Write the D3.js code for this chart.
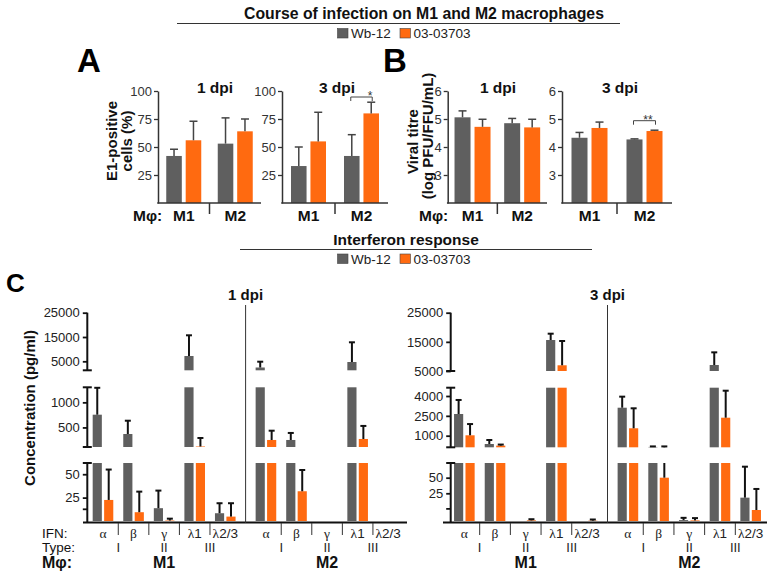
<!DOCTYPE html>
<html><head><meta charset="utf-8">
<script src="https://cdn.jsdelivr.net/npm/d3@7"></script>
<style>body{margin:0;background:#fff}svg{display:block}text{font-family:"Liberation Sans",Arial,sans-serif}</style>
</head><body><svg id="chart" width="776" height="578"></svg>
<script>
// ---------------- DATA ----------------
const macrophages = ["M1", "M2"];
const strains = ["Wb-12", "03-03703"];
const strainColors = ["#5f5f5f", "#ff6a10"];

// Panel A: E1-positive cells (%), [M1, M2]
const aTicks = [25, 50, 75, 100];
const a1dpiWb = [42, 53],  a1dpiWbErr = [6, 23];
const a1dpi03 = [56, 64],  a1dpi03Err = [17, 11];
const a3dpiWb = [33, 42],  a3dpiWbErr = [17, 19];
const a3dpi03 = [55, 80],  a3dpi03Err = [26, 10];

// Panel B: Viral titre (log PFU/FFU/mL), [M1, M2]
const bTicks = [3, 4, 5, 6];
const b1dpiWb = [5.06, 4.85], b1dpiWbErr = [0.23, 0.17];
const b1dpi03 = [4.72, 4.70], b1dpi03Err = [0.27, 0.29];
const b3dpiWb = [4.33, 4.27], b3dpiWbErr = [0.19, 0.02];
const b3dpi03 = [4.68, 4.57], b3dpi03Err = [0.21, 0.03];

// Panel C: IFN concentration (pg/ml); order M1: α β γ λ1 λ2/3, then M2: α β γ λ1 λ2/3
const ifnTypes = ["α", "β", "γ", "λ1", "λ2/3"];
const ifnClass = ["I", "II", "III"];
const c1dpiWb    = [754, 369, 13.7, 7180, 8.3,   2450, 250, null, 4715, null];
const c1dpiWbErr = [536, 265, 18.8, 8520, 10.7,  2390, 140, null, 8105, null];
const c1dpi03    = [22.5, 9.4, 0.5, 120, 4.7,    250, 31.8, null, 270, null];
const c1dpi03Err = [32.5, 22, 2, 170, 14.3,      185, 22.7, null, 260, null];
const c3dpiWb    = [2640, 373, null, 15630, null,  3115, 150, 7.6, 7060, 20.6];
const c3dpiWbErr = [1060, 302, null, 2170, null,   835, 40, 0.8, 4340, 60.9];
const c3dpi03    = [1030, 250, 7.5, 6960, 7.4,     1560, 50, 7.5, 2360, 11.9];
const c3dpi03Err = [850, 80, 0.4, 8330, 0.4,       1510, 140, 0.8, 2040, 18.4];

// Broken-axis tick labels for panel C
const c1TopTicks = [5000, 15000, 25000], c1MidTicks = [500, 1000], c1BotTicks = [25, 50];
const c3TopTicks = [5000, 15000, 25000], c3MidTicks = [1000, 2500, 4000], c3BotTicks = [25, 50];

// ---------------- DRAW ----------------
const svg = d3.select("#chart");
const AX = "#333";

function header(title, tx, ty, lx1, lx2, ly, legY, fs) {
  svg.append("text").attr("x", tx).attr("y", ty).attr("text-anchor", "middle")
    .attr("font-size", fs).attr("font-weight", "bold").attr("fill", "#111").text(title);
  svg.append("line").attr("x1", lx1).attr("x2", lx2).attr("y1", ly).attr("y2", ly)
    .attr("stroke", "#333").attr("stroke-width", 1.2);
  const lx = [337.5, 400];
  strains.forEach((s, i) => {
    svg.append("rect").attr("x", lx[i]).attr("y", legY).attr("width", 10.5).attr("height", 9.5)
      .attr("fill", strainColors[i]).attr("stroke", "#444").attr("stroke-width", 0.6);
    svg.append("text").attr("x", lx[i] + 13.5).attr("y", legY + 9.5).attr("font-size", 13.5)
      .attr("fill", "#222").text(s);
  });
}
header("Course of infection on M1 and M2 macrophages", 424, 19, 177, 620, 23.5, 28.5, 15.8);
header("Interferon response", 406, 245, 240, 592, 249.5, 254, 15.5);

function letter(t, x, y, size) {
  svg.append("text").attr("x", x).attr("y", y).attr("font-size", size).attr("font-weight", "bold")
    .attr("fill", "#000").text(t);
}
letter("A", 77, 72, 33);
letter("B", 383, 72, 33);
letter("C", 6, 292, 26);

function rotLabel(lines, cy) {
  lines.forEach(([t, x]) => {
    svg.append("text").attr("transform", `translate(${x},${cy}) rotate(-90)`)
      .attr("text-anchor", "middle").attr("dy", "0.36em").attr("font-size", 15)
      .attr("font-weight", "bold").attr("fill", "#111").text(t);
  });
}
rotLabel([["E1-positive", 112], ["cells (%)", 127]], 141);
svg.append("text").attr("transform", "translate(413,141.5) rotate(-90)").attr("text-anchor", "middle")
  .attr("dy", "0.36em").attr("font-size", 15).attr("font-weight", "bold").attr("fill", "#111").text("Viral titre");
svg.append("text").attr("transform", "translate(428,136) rotate(-90)").attr("text-anchor", "middle")
  .attr("dy", "0.36em").attr("font-size", 15).attr("font-weight", "bold").attr("fill", "#111").text("(log PFU/FFU/mL)");
svg.append("text").attr("transform", "translate(30,408) rotate(-90)").attr("text-anchor", "middle")
  .attr("dy", "0.36em").attr("font-size", 15).attr("font-weight", "bold").attr("fill", "#111").text("Concentration (pg/ml)");

function smallPanel(o) {
  const g = svg.append("g");
  const y = d3.scaleLinear().domain(o.yDomain).range([203, 91]);
  const x = d3.scaleBand().domain(macrophages).range([o.ax, o.xEnd]);
  const half = o.pair / 2, bw = x.bandwidth();
  const xs = d3.scaleBand().domain(strains).range([bw / 2 - half, bw / 2 + half]).paddingInner(0.2);
  const series = [[o.wb, o.wbErr], [o.st, o.stErr]];
  macrophages.forEach((m, i) => {
    series.forEach(([vals, errs], j) => {
      const bx = x(m) + xs(strains[j]), v = vals[i], e = errs[i], cx = bx + xs.bandwidth() / 2;
      g.append("rect").attr("x", bx).attr("y", y(v)).attr("width", xs.bandwidth())
        .attr("height", y(o.yDomain[0]) - y(v)).attr("fill", strainColors[j]);
      g.append("line").attr("x1", cx).attr("x2", cx).attr("y1", y(v)).attr("y2", y(v + e))
        .attr("stroke", "#444").attr("stroke-width", 1.5);
      g.append("line").attr("x1", cx - 4).attr("x2", cx + 4).attr("y1", y(v + e)).attr("y2", y(v + e))
        .attr("stroke", "#444").attr("stroke-width", 1.5);
    });
    g.append("text").attr("x", x(m) + bw / 2).attr("y", 221).attr("text-anchor", "middle")
      .attr("font-size", 15.5).attr("font-weight", "bold").attr("fill", "#111").text(m);
  });
  const axis = g.append("g").attr("transform", `translate(${o.ax},0)`)
    .call(d3.axisLeft(y).tickValues(o.ticks).tickSize(4).tickSizeOuter(0).tickPadding(2).tickFormat(d3.format("d")));
  axis.select(".domain").attr("stroke", AX).attr("stroke-width", 1.5);
  axis.selectAll(".tick line").attr("stroke", AX).attr("stroke-width", 1.3);
  axis.selectAll(".tick text").attr("font-size", 13).attr("fill", "#333")
    .attr("font-family", '"Liberation Sans", Arial, sans-serif');
  g.append("line").attr("x1", o.ax - 0.75).attr("x2", o.xEnd).attr("y1", 203).attr("y2", 203)
    .attr("stroke", AX).attr("stroke-width", 1.5);
  g.append("line").attr("x1", x("M2")).attr("x2", x("M2")).attr("y1", 203).attr("y2", 214)
    .attr("stroke", AX).attr("stroke-width", 1.5);
  g.append("text").attr("x", o.titleX).attr("y", 93).attr("text-anchor", "middle")
    .attr("font-size", 15.5).attr("font-weight", "bold").attr("fill", "#111").text(o.title);
  if (o.mphiX) g.append("text").attr("x", o.mphiX).attr("y", 221).attr("font-size", 15.5)
    .attr("font-weight", "bold").attr("fill", "#111").text("Mφ:");
  if (o.sig) {
    const x1 = x("M2") + xs("Wb-12") + xs.bandwidth() / 2, x2 = x("M2") + xs("03-03703") + xs.bandwidth() / 2;
    g.append("path").attr("d", `M${x1 - 1},${o.sig.y + 4}V${o.sig.y}H${x2 + 1}V${o.sig.y + 4}`)
      .attr("fill", "none").attr("stroke", "#444").attr("stroke-width", 1);
    g.append("text").attr("x", o.sig.tx).attr("y", o.sig.y + 3).attr("text-anchor", "middle")
      .attr("font-size", 12).attr("fill", "#333").text(o.sig.text);
  }
}
smallPanel({ax: 158, xEnd: 261, pair: 35, yDomain: [0, 100], ticks: aTicks, wb: a1dpiWb, wbErr: a1dpiWbErr,
  st: a1dpi03, stErr: a1dpi03Err, title: "1 dpi", titleX: 215, mphiX: 133});
smallPanel({ax: 282, xEnd: 388, pair: 35, yDomain: [0, 100], ticks: aTicks, wb: a3dpiWb, wbErr: a3dpiWbErr,
  st: a3dpi03, stErr: a3dpi03Err, title: "3 dpi", titleX: 337, sig: {y: 97, text: "*", tx: 370}});
smallPanel({ax: 447.7, xEnd: 547, pair: 36, yDomain: [2, 6], ticks: bTicks, wb: b1dpiWb, wbErr: b1dpiWbErr,
  st: b1dpi03, stErr: b1dpi03Err, title: "1 dpi", titleX: 498, mphiX: 419});
smallPanel({ax: 562, xEnd: 672, pair: 36, yDomain: [2, 6], ticks: bTicks, wb: b3dpiWb, wbErr: b3dpiWbErr,
  st: b3dpi03, stErr: b3dpi03Err, title: "3 dpi", titleX: 620, sig: {y: 120.7, text: "**", tx: 648}});

function panelC(o) {
  const g = svg.append("g");
  const outer = d3.scaleBand().domain(macrophages).range(o.range).paddingInner(0.062);
  const inner = d3.scaleBand().domain(ifnTypes).range([0, outer.bandwidth()]);
  const ib = inner.bandwidth();
  const sub = d3.scaleBand().domain(strains).range([ib / 2 - 10.3, ib / 2 + 10.3]).paddingInner(0.2);
  const series = [[o.wb, o.wbErr], [o.st, o.stErr]];
  macrophages.forEach((m, mi) => {
    ifnTypes.forEach((t, ti) => {
      const idx = mi * 5 + ti;
      series.forEach(([vals, errs], j) => {
        const v = vals[idx], e = errs[idx];
        if (v == null) return;
        const bx = outer(m) + inner(t) + sub(strains[j]), cx = bx + sub.bandwidth() / 2;
        const top = v + e;
        o.segs.forEach(seg => {
          const [lo, hi] = seg.scale.domain();
          if (v > lo) {
            const yv = seg.scale(Math.min(v, hi));
            g.append("rect").attr("x", bx).attr("width", sub.bandwidth()).attr("y", yv)
              .attr("height", seg.scale(lo) - yv).attr("fill", strainColors[j]);
          }
          const a = Math.max(v, lo), b = Math.min(top, hi);
          if (b > a) g.append("line").attr("x1", cx).attr("x2", cx).attr("y1", seg.scale(a)).attr("y2", seg.scale(b))
            .attr("stroke", "#111").attr("stroke-width", 2);
          if (top >= lo && top <= hi) g.append("line").attr("x1", cx - 3).attr("x2", cx + 3)
            .attr("y1", seg.scale(top)).attr("y2", seg.scale(top)).attr("stroke", "#111").attr("stroke-width", 2);
        });
      });
    });
  });
  o.segs.forEach(seg => {
    const ax = g.append("g").attr("transform", `translate(${o.ax},0)`)
      .call(d3.axisLeft(seg.scale).tickValues(seg.ticks).tickSize(4.5).tickSizeOuter(0).tickPadding(3).tickFormat(d3.format("d")));
    ax.select(".domain").remove();
    ax.selectAll(".tick line").attr("stroke", "#111").attr("stroke-width", 1.8);
    ax.selectAll(".tick text").attr("font-size", 13).attr("fill", "#222")
      .attr("font-family", '"Liberation Sans", Arial, sans-serif');
    if (seg.minor) seg.minor.forEach(mv => g.append("line").attr("x1", o.ax - 4.5).attr("x2", o.ax)
      .attr("y1", seg.scale(mv)).attr("y2", seg.scale(mv)).attr("stroke", "#111").attr("stroke-width", 1.8));
    const [r0, r1] = seg.scale.range();
    g.append("line").attr("x1", o.ax).attr("x2", o.ax).attr("y1", seg.extendTo || r0).attr("y2", r1)
      .attr("stroke", "#111").attr("stroke-width", 2);
    (seg.caps || []).forEach(cy => g.append("line").attr("x1", o.ax - 4.5).attr("x2", o.ax + 4.5)
      .attr("y1", cy).attr("y2", cy).attr("stroke", "#111").attr("stroke-width", 2));
  });
  g.append("line").attr("x1", o.baseX[0]).attr("x2", o.baseX[1]).attr("y1", 522.5).attr("y2", 522.5)
    .attr("stroke", "#111").attr("stroke-width", 2);
  const dx = (outer("M1") + outer.bandwidth() + outer("M2")) / 2;
  g.append("line").attr("x1", dx).attr("x2", dx).attr("y1", 305).attr("y2", 523)
    .attr("stroke", "#333").attr("stroke-width", 1);
  g.append("text").attr("x", dx).attr("y", 300).attr("text-anchor", "middle").attr("font-size", 15)
    .attr("font-weight", "bold").attr("fill", "#111").text(o.title);
  macrophages.forEach(m => {
    ifnTypes.forEach((t, ti) => {
      const cx = outer(m) + inner(t) + ib / 2;
      const tx = g.append("text").attr("x", cx).attr("y", 538).attr("text-anchor", "middle")
        .attr("font-size", 13.5).attr("fill", "#222");
      tx.append("tspan").attr("font-family", '"Liberation Serif", "Times New Roman", serif').text(t[0]);
      if (t.length > 1) tx.append("tspan").text(t.slice(1));
      if (ti > 0) {
        const sx = outer(m) + inner(t);
        g.append("line").attr("x1", sx).attr("x2", sx).attr("y1", 523).attr("y2", 535)
          .attr("stroke", "#333").attr("stroke-width", 1);
      }
    });
    const typeX = [outer(m) + inner("β"), outer(m) + inner("γ") + ib / 2, outer(m) + inner("λ2/3")];
    ifnClass.forEach((c, ci) => g.append("text").attr("x", typeX[ci]).attr("y", 551.5).attr("text-anchor", "middle")
      .attr("font-size", 13).attr("fill", "#222").text(c));
    g.append("text").attr("x", outer(m) + outer.bandwidth() / 2).attr("y", 568).attr("text-anchor", "middle")
      .attr("font-size", 16).attr("font-weight", "bold").attr("fill", "#111").text(m);
  });
}

panelC({
  ax: 87.3, range: [87.7, 403.5], baseX: [83, 407], title: "1 dpi",
  wb: c1dpiWb, wbErr: c1dpiWbErr, st: c1dpi03, stErr: c1dpi03Err,
  segs: [
    {scale: d3.scaleLinear().domain([1300, 25000]).range([370.3, 312.7]), ticks: c1TopTicks, caps: [370.3]},
    {scale: d3.scaleLinear().domain([110, 1300]).range([447, 387.3]), ticks: c1MidTicks, caps: [447, 387.3]},
    {scale: d3.scaleLinear().domain([0, 62]).range([521, 463]), ticks: c1BotTicks, minor: [12.5], caps: [463], extendTo: 523}
  ]
});
panelC({
  ax: 450.7, range: [449, 766], baseX: [443, 767], title: "3 dpi",
  wb: c3dpiWb, wbErr: c3dpiWbErr, st: c3dpi03, stErr: c3dpi03Err,
  segs: [
    {scale: d3.scaleLinear().domain([5000, 25000]).range([371, 312.7]), ticks: c3TopTicks, caps: [371]},
    {scale: d3.scaleLinear().domain([123, 4627]).range([447.3, 387.7]), ticks: c3MidTicks, caps: [447.3, 387.7]},
    {scale: d3.scaleLog().domain([7.3, 96]).range([521, 463]), ticks: c3BotTicks, minor: [12.5], caps: [463], extendTo: 523}
  ]
});

[["IFN:", 538, 13.5, "normal"], ["Type:", 551.5, 13.5, "normal"], ["Mφ:", 568, 16, "bold"]].forEach(([t, y, s, w]) =>
  svg.append("text").attr("x", 42).attr("y", y).attr("font-size", s).attr("font-weight", w).attr("fill", "#111").text(t));
</script></body></html>
